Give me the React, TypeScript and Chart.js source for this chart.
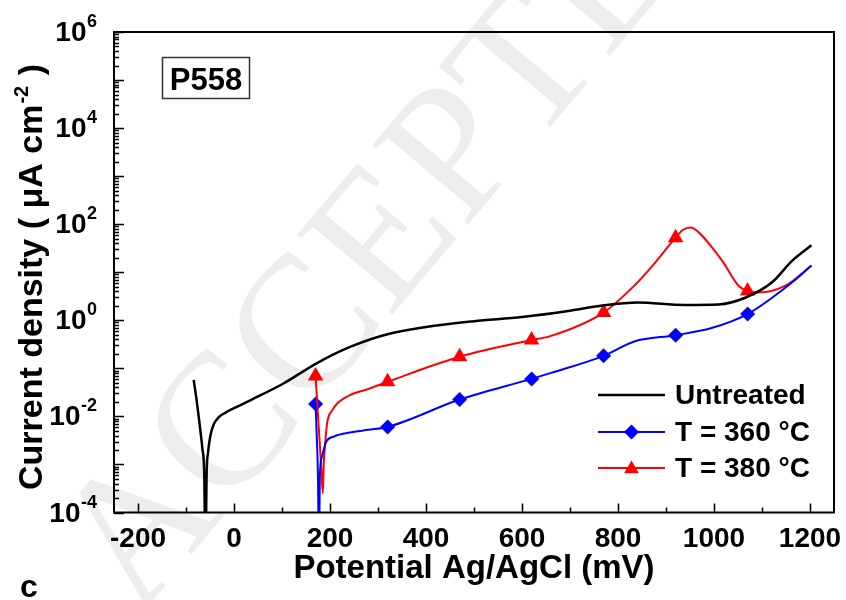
import React, { useEffect, useRef } from "react";
import { Chart, registerables } from "chart.js";

Chart.register(...registerables);

// ---------- data (potential in mV, current density in µA cm^-2) ----------
const untreatedX = [-84, -78, -72, -66, -62, -59.5, -57, -54, -49, -42, -32, -17.5, 0, 35, 104, 173, 243, 312, 400, 500, 600, 700, 764, 841, 939, 1009, 1065, 1121, 1163, 1203];
const untreatedY = [0.0575, 0.0224, 0.00741, 0.00219, 0.00063, 0.00001, 0.00063, 0.00178, 0.00407, 0.00692, 0.00955, 0.012, 0.0148, 0.0219, 0.049, 0.129, 0.282, 0.49, 0.724, 0.955, 1.17, 1.58, 2.0, 2.34, 2.09, 2.14, 2.95, 6.17, 17.4, 36.3];

const t360X = [170, 172, 175, 177, 179, 183, 191, 208, 245, 280, 320, 470, 620, 659, 770, 834, 920, 995, 1070, 1121, 1163, 1203];
const t360Y = [0.0182, 0.005, 0.0005, 0.00001, 0.00063, 0.00141, 0.00282, 0.0038, 0.00468, 0.00525, 0.00603, 0.0224, 0.0603, 0.0794, 0.182, 0.363, 0.49, 0.692, 1.35, 2.95, 6.17, 13.8];
const t360MarkerX = [170, 320, 470, 620, 770, 920, 1070];
const t360MarkerY = [0.0182, 0.00603, 0.0224, 0.0603, 0.182, 0.49, 1.35];

const t380X = [170, 177, 182, 185, 187, 190.6, 194, 205, 215, 243, 277, 320, 470, 620, 659, 770, 834, 869, 920, 935, 952, 967, 995, 1019, 1051, 1070, 1093, 1149, 1203];
const t380Y = [0.069, 0.005, 0.00079, 0.00025, 0.00105, 0.00324, 0.00724, 0.0135, 0.0186, 0.0282, 0.0363, 0.0525, 0.174, 0.389, 0.468, 1.45, 5.25, 12.6, 52.5, 75.9, 85.1, 69.2, 33.9, 16.2, 5.25, 4.07, 3.8, 5.25, 13.8];
const t380MarkerX = [170, 320, 470, 620, 770, 920, 1070];
const t380MarkerY = [0.069, 0.0525, 0.174, 0.389, 1.45, 52.5, 4.07];

const seriesLabels = ["Untreated", "T = 360 °C", "T = 380 °C"];
const seriesColors = ["#000000", "#0000ff", "#ff0000"];

const xMin = -250;
const xMax = 1250;
const yMin = 1e-4;
const yMax = 1e6;
const xMajorTicks = [-200, 0, 200, 400, 600, 800, 1000, 1200];
const xMinorTicks = [-100, 100, 300, 500, 700, 900, 1100];
const yDecades = [-4, -3, -2, -1, 0, 1, 2, 3, 4, 5, 6];
const yLabelExponents = [-4, -2, 0, 2, 4, 6];

const xTitle = "Potential Ag/AgCl (mV)";
const yTitleMain = "Current density ( μA cm";
const yTitleSup = "-2";
const yTitleEnd = " )";
const sampleLabel = "P558";
const panelLabel = "c";
const watermarkText = "ACCEPTED MANUSCRIPT";

const FONT = '"Liberation Sans", Arial, Helvetica, sans-serif';

function toPoints(xs: number[], ys: number[]) {
  return xs.map((x, i) => ({ x, y: ys[i] }));
}

function drawDiamond(ctx: CanvasRenderingContext2D, x: number, y: number, r: number) {
  ctx.beginPath();
  ctx.moveTo(x - r, y);
  ctx.lineTo(x, y - r);
  ctx.lineTo(x + r, y);
  ctx.lineTo(x, y + r);
  ctx.closePath();
  ctx.fill();
}

function drawTriangle(ctx: CanvasRenderingContext2D, x: number, y: number, r: number) {
  ctx.beginPath();
  ctx.moveTo(x, y - r);
  ctx.lineTo(x + r * Math.sin((2 * Math.PI) / 3), y - r * Math.cos((2 * Math.PI) / 3));
  ctx.lineTo(x + r * Math.sin((4 * Math.PI) / 3), y - r * Math.cos((4 * Math.PI) / 3));
  ctx.closePath();
  ctx.fill();
}

const decorPlugin = {
  id: "decor",
  beforeDatasetsDraw(chart: any) {
    const ctx: CanvasRenderingContext2D = chart.ctx;
    ctx.save();
    ctx.translate(138, 618);
    ctx.rotate((-50 * Math.PI) / 180);
    ctx.font = `190px "Liberation Serif", "Times New Roman", serif`;
    ctx.fillStyle = "rgba(0,0,0,0.07)";
    ctx.textBaseline = "alphabetic";
    ctx.textAlign = "left";
    ctx.fillText(watermarkText, 0, 0);
    ctx.restore();
  },
  afterDraw(chart: any) {
    const ctx: CanvasRenderingContext2D = chart.ctx;
    const area = chart.chartArea;
    const xs = chart.scales.x;
    const ys = chart.scales.y;
    ctx.save();

    // frame
    ctx.strokeStyle = "#000";
    ctx.lineWidth = 2;
    ctx.strokeRect(area.left, area.top, area.right - area.left, area.bottom - area.top);

    // x ticks (inward)
    ctx.lineWidth = 1.5;
    ctx.beginPath();
    xMajorTicks.forEach((v) => {
      const px = Math.round(xs.getPixelForValue(v)) + 0.5;
      ctx.moveTo(px, area.bottom);
      ctx.lineTo(px, area.bottom - 9);
    });
    xMinorTicks.forEach((v) => {
      const px = Math.round(xs.getPixelForValue(v)) + 0.5;
      ctx.moveTo(px, area.bottom);
      ctx.lineTo(px, area.bottom - 5);
    });
    // y ticks (inward, log)
    yDecades.forEach((e) => {
      const py = Math.round(ys.getPixelForValue(Math.pow(10, e))) + 0.5;
      ctx.moveTo(area.left, py);
      ctx.lineTo(area.left + 10, py);
      if (e < 6) {
        for (let m = 2; m <= 9; m++) {
          const pm = Math.round(ys.getPixelForValue(m * Math.pow(10, e))) + 0.5;
          ctx.moveTo(area.left, pm);
          ctx.lineTo(area.left + 5, pm);
        }
      }
    });
    ctx.stroke();

    ctx.fillStyle = "#000";
    // x tick labels
    ctx.font = `bold 28px ${FONT}`;
    ctx.textAlign = "center";
    ctx.textBaseline = "alphabetic";
    xMajorTicks.forEach((v) => {
      ctx.fillText(String(v), xs.getPixelForValue(v), 547);
    });

    // y tick labels 10^n
    yLabelExponents.forEach((e) => {
      const py = ys.getPixelForValue(Math.pow(10, e));
      const sup = String(e);
      ctx.font = `bold 18px ${FONT}`;
      const wSup = ctx.measureText(sup).width;
      const right = 97;
      ctx.textAlign = "left";
      ctx.fillText(sup, right - wSup, py - 5);
      ctx.font = `bold 28px ${FONT}`;
      ctx.textAlign = "right";
      ctx.fillText("10", right - wSup - 0.5, py + 9);
    });

    // x title
    ctx.font = `bold 33px ${FONT}`;
    ctx.textAlign = "center";
    ctx.fillText(xTitle, (area.left + area.right) / 2, 578);

    // y title (rotated)
    ctx.save();
    ctx.translate(42, 277);
    ctx.rotate(-Math.PI / 2);
    ctx.font = `bold 34px ${FONT}`;
    const w1 = ctx.measureText(yTitleMain).width;
    const w3 = ctx.measureText(yTitleEnd).width;
    ctx.font = `bold 20px ${FONT}`;
    const w2 = ctx.measureText(yTitleSup).width;
    const x0 = -(w1 + w2 + w3 + 2) / 2;
    ctx.textAlign = "left";
    ctx.font = `bold 34px ${FONT}`;
    ctx.fillText(yTitleMain, x0, 0);
    ctx.font = `bold 20px ${FONT}`;
    ctx.fillText(yTitleSup, x0 + w1 + 1, -14);
    ctx.font = `bold 34px ${FONT}`;
    ctx.fillText(yTitleEnd, x0 + w1 + w2 + 2, 0);
    ctx.restore();

    // sample label box
    ctx.strokeStyle = "#333";
    ctx.lineWidth = 1.5;
    ctx.strokeRect(162.5, 57.5, 87, 41);
    ctx.font = `bold 31px ${FONT}`;
    ctx.textAlign = "center";
    ctx.fillStyle = "#000";
    ctx.fillText(sampleLabel, 206, 90);

    // panel label
    ctx.font = `bold 32px ${FONT}`;
    ctx.textAlign = "left";
    ctx.fillText(panelLabel, 20, 597);

    // legend
    const rows = [395, 432, 468];
    ctx.font = `bold 28px ${FONT}`;
    ctx.textBaseline = "middle";
    rows.forEach((ry, i) => {
      ctx.strokeStyle = seriesColors[i];
      ctx.fillStyle = seriesColors[i];
      ctx.lineWidth = i === 0 ? 2.5 : 2;
      ctx.beginPath();
      ctx.moveTo(598, ry);
      ctx.lineTo(665, ry);
      ctx.stroke();
      if (i === 1) drawDiamond(ctx, 631.5, ry, 7.5);
      if (i === 2) drawTriangle(ctx, 631.5, ry + 1, 8.5);
      ctx.fillStyle = "#000";
      ctx.textAlign = "left";
      ctx.fillText(seriesLabels[i], 675, ry + 1);
    });

    ctx.restore();
  },
};

export default function App() {
  const canvasRef = useRef<HTMLCanvasElement | null>(null);

  useEffect(() => {
    if (!canvasRef.current) return;
    const lineCommon = {
      pointRadius: 0,
      fill: false,
      cubicInterpolationMode: "monotone" as const,
      showLine: true,
    };
    const chart = new Chart(canvasRef.current, {
      type: "line",
      data: {
        datasets: [
          {
            ...lineCommon,
            label: seriesLabels[0],
            data: toPoints(untreatedX, untreatedY),
            borderColor: seriesColors[0],
            borderWidth: 2.5,
          },
          {
            ...lineCommon,
            label: seriesLabels[1],
            data: toPoints(t360X, t360Y),
            borderColor: seriesColors[1],
            borderWidth: 2,
          },
          {
            ...lineCommon,
            label: seriesLabels[2],
            data: toPoints(t380X, t380Y),
            borderColor: seriesColors[2],
            borderWidth: 2,
          },
          {
            label: seriesLabels[1] + " markers",
            data: toPoints(t360MarkerX, t360MarkerY),
            showLine: false,
            pointStyle: "rectRot",
            pointRadius: 7.5,
            pointBackgroundColor: seriesColors[1],
            pointBorderColor: seriesColors[1],
            pointBorderWidth: 0,
          },
          {
            label: seriesLabels[2] + " markers",
            data: toPoints(t380MarkerX, t380MarkerY),
            showLine: false,
            pointStyle: "triangle",
            pointRadius: 9,
            pointBackgroundColor: seriesColors[2],
            pointBorderColor: seriesColors[2],
            pointBorderWidth: 0,
          },
        ] as any,
      },
      options: {
        animation: false,
        responsive: false,
        maintainAspectRatio: false,
        layout: { padding: { top: 32, right: 12, left: 0, bottom: 0 } },
        plugins: {
          legend: { display: false },
          tooltip: { enabled: false },
        },
        scales: {
          x: {
            type: "linear",
            min: xMin,
            max: xMax,
            grid: { display: false },
            border: { display: false },
            ticks: { display: false },
            afterFit: (s: any) => {
              s.height = 87.5;
            },
          },
          y: {
            type: "logarithmic",
            min: yMin,
            max: yMax,
            grid: { display: false },
            border: { display: false },
            ticks: { display: false },
            afterFit: (s: any) => {
              s.width = 114;
            },
          },
        },
      } as any,
      plugins: [decorPlugin],
    });
    return () => chart.destroy();
  }, []);

  return (
    <div style={{ position: "absolute", left: 0, top: 0, width: 846, height: 600, background: "#fff" }}>
      <canvas ref={canvasRef} width={846} height={600} style={{ display: "block" }} />
    </div>
  );
}
